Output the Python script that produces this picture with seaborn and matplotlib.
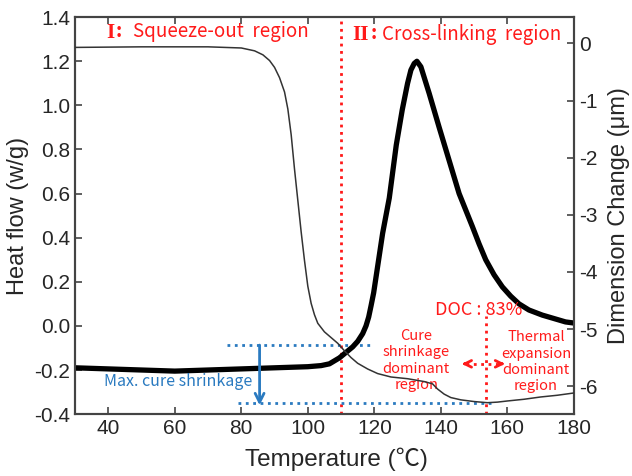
import matplotlib
matplotlib.use("Agg")
import matplotlib.pyplot as plt
import seaborn as sns
import pandas as pd

# ---- data ----
hf_temp = [30, 40, 50, 60, 70, 80, 90, 100, 104, 106.5, 109.5, 111.5, 113.5, 115, 116.5,
           117.5, 118.3, 119, 119.8, 121, 122.5, 124.5, 126.6, 128.4, 130, 131, 132, 132.8,
           134, 136.5, 139.5, 142.5, 145.5, 149.5, 151.5, 153.5, 156, 158.5, 161, 163.5,
           166.5, 170.5, 177.5, 180]
heat_flow = [-0.19, -0.195, -0.2, -0.205, -0.2, -0.195, -0.19, -0.185, -0.18, -0.172,
             -0.145, -0.12, -0.095, -0.07, -0.035, 0.0, 0.04, 0.09, 0.15, 0.27, 0.42, 0.58,
             0.82, 0.98, 1.10, 1.16, 1.19, 1.20, 1.175, 1.054, 0.90, 0.75, 0.60, 0.45,
             0.372, 0.30, 0.232, 0.177, 0.135, 0.10, 0.072, 0.049, 0.018, 0.013]

dim_temp = [30, 50, 70, 80, 84, 86.5, 88.5, 90, 91.5, 93, 94, 95, 96, 97, 98, 99, 100,
            101, 102, 103, 105, 107, 109, 111, 113, 115, 118, 121, 125, 130, 135, 137.5,
            139, 141, 143, 146, 150, 154, 157, 160, 165, 170, 175, 180]
dimension = [-0.07, -0.06, -0.06, -0.08, -0.13, -0.2, -0.3, -0.42, -0.6, -0.85, -1.15,
             -1.6, -2.2, -2.75, -3.3, -3.8, -4.25, -4.55, -4.75, -4.9, -5.05, -5.15,
             -5.25, -5.38, -5.5, -5.6, -5.7, -5.78, -5.84, -5.87, -5.92, -5.96, -6.05,
             -6.14, -6.2, -6.24, -6.27, -6.29, -6.28, -6.26, -6.23, -6.19, -6.16, -6.12]

x_ticks = [40, 60, 80, 100, 120, 140, 160, 180]
left_ticks = [-0.4, -0.2, 0.0, 0.2, 0.4, 0.6, 0.8, 1.0, 1.2, 1.4]
right_ticks = [-6, -5, -4, -3, -2, -1, 0]

cure_temp = 110          # boundary between regions I and II
doc_temp = 153.5         # DOC 83 % point
shrink_top = -0.087      # upper level of max. cure shrinkage (heat-flow axis units)
shrink_bottom = -0.35    # lower level

sns.set_style("ticks")
plt.rcParams['font.family'] = ['Liberation Sans', 'DejaVu Sans']
plt.rcParams['axes.unicode_minus'] = False

RED = "#ff1a1a"
BLUE = "#2a7ac0"
LBL = ['Noto Sans CJK KR', 'DejaVu Sans']

fig = plt.figure(figsize=(6.32, 4.76), dpi=100)
ax = fig.add_axes([0.1187, 0.130, 0.7893, 0.834])
ax2 = ax.twinx()

df_hf = pd.DataFrame({"T": hf_temp, "HF": heat_flow})
df_dim = pd.DataFrame({"T": dim_temp, "D": dimension})

sns.lineplot(data=df_hf, x="T", y="HF", ax=ax, color="black", lw=3.8, sort=False,
             estimator=None, zorder=3)
sns.lineplot(data=df_dim, x="T", y="D", ax=ax2, color="#333333", lw=1.1, sort=False,
             estimator=None, zorder=3)

ax.set_xlim(30, 180)
ax.set_ylim(-0.4, 1.4)
ax2.set_ylim(-6.49, 0.46)

ax.set_xticks(x_ticks)
ax.set_yticks(left_ticks)
ax.set_yticklabels([f"{v:.1f}" for v in left_ticks])
ax2.set_yticks(right_ticks)
ax2.set_yticklabels([str(v) for v in right_ticks])

for a in (ax, ax2):
    for s in a.spines.values():
        s.set_color("#444444")
        s.set_linewidth(1.5)
ax.tick_params(axis="both", direction="in", length=5, width=1.2, color="#444444",
               labelsize=15, top=True, right=False)
ax2.tick_params(axis="y", direction="in", length=5, width=1.2, color="#444444",
                labelsize=15)

ax.set_xlabel("Temperature (\u2103)", fontsize=17.5, labelpad=7)
ax.xaxis.set_label_coords(0.525, -0.085)
ax.set_ylabel("Heat flow (w/g)", fontsize=17, labelpad=4)
ax2.set_ylabel("Dimension Change (\u03bcm)", fontsize=17, labelpad=8)
ax.xaxis.label.set_family(['Liberation Sans', 'Noto Sans CJK KR', 'DejaVu Sans'])

# region boundary lines
ax.axvline(cure_temp, color=RED, ls=":", lw=2, zorder=2)
ax.plot([doc_temp, doc_temp], [-0.4, 0.045], color=RED, ls=":", lw=2, zorder=2)

# max cure shrinkage guides
ax.plot([75.6, 119], [shrink_top, shrink_top], color=BLUE, ls=":", lw=2, zorder=2)
ax.plot([79, 155], [shrink_bottom, shrink_bottom], color=BLUE, ls=":", lw=2, zorder=2)
ax.annotate("", xy=(85.5, shrink_bottom - 0.01), xytext=(85.5, shrink_top),
            arrowprops=dict(arrowstyle="->", color=BLUE, lw=2, mutation_scale=16,
                            shrinkA=0, shrinkB=0))
ax.text(61, -0.25, "Max. cure shrinkage", color=BLUE, fontsize=11.5, ha="center",
        va="center", family=LBL)

# region titles
ax.text(39.5, 1.33, "I", color=RED, fontsize=15, fontweight="bold", ha="left",
        va="center", family=['Liberation Serif', 'DejaVu Serif'])
ax.text(42.2, 1.335, ":", color=RED, fontsize=14, fontweight="bold", ha="left",
        va="center", family=LBL)
ax.text(47.5, 1.333, "Squeeze-out  region", color=RED, fontsize=13.5, ha="left",
        va="center", family=LBL)
ax.text(113.4, 1.32, "II", color=RED, fontsize=15, fontweight="bold", ha="left",
        va="center", family=['Liberation Serif', 'DejaVu Serif'])
ax.text(119.0, 1.325, ":", color=RED, fontsize=14, fontweight="bold", ha="left",
        va="center", family=LBL)
ax.text(122.2, 1.323, "Cross-linking  region", color=RED, fontsize=13.5, ha="left",
        va="center", family=LBL)

# DOC annotations
ax.text(151.3, 0.07, "DOC : 83%", color=RED, fontsize=13, ha="center", va="center",
        family=LBL)
ax.text(132.6, -0.157, "Cure\nshrinkage\ndominant\nregion", color=RED, fontsize=10.5,
        ha="center", va="center", linespacing=1.2, family=LBL)
ax.text(168.6, -0.162, "Thermal\nexpansion\ndominant\nregion", color=RED, fontsize=10.5,
        ha="center", va="center", linespacing=1.2, family=LBL)
ax.plot([147.5, 158.2], [-0.172, -0.172], color=RED, ls=":", lw=2)
ax.annotate("", xy=(146.3, -0.172), xytext=(148.0, -0.172),
            arrowprops=dict(arrowstyle="->", color=RED, lw=2, mutation_scale=12,
                            shrinkA=0, shrinkB=0))
ax.annotate("", xy=(159.3, -0.172), xytext=(157.6, -0.172),
            arrowprops=dict(arrowstyle="->", color=RED, lw=2, mutation_scale=12,
                            shrinkA=0, shrinkB=0))

fig.savefig("out.png", dpi=100)
